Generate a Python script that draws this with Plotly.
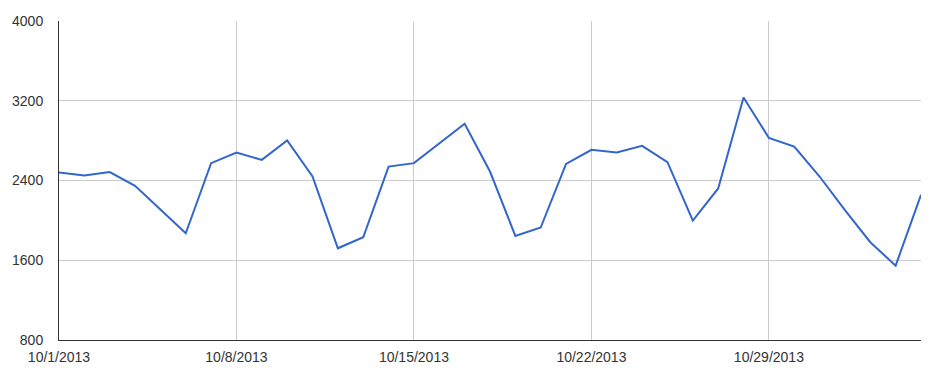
import plotly.graph_objects as go
import pandas as pd

dates = pd.date_range("2013-10-01", "2013-11-04", freq="D").strftime("%Y-%m-%d").tolist()
values = [2480, 2450, 2484, 2346, 2110, 1871, 2574, 2680, 2607, 2801,
          2440, 1720, 1831, 2540, 2574, 2768, 2969, 2490, 1844, 1928,
          2567, 2708, 2680, 2748, 2584, 1998, 2320, 3233, 2828, 2741,
          2440, 2102, 1781, 1546, 2256]

x_tickvals = ["2013-10-01", "2013-10-08", "2013-10-15", "2013-10-22", "2013-10-29"]
x_ticktext = ["10/1/2013", "10/8/2013", "10/15/2013", "10/22/2013", "10/29/2013"]
y_tickvals = [800, 1600, 2400, 3200, 4000]
y_ticktext = ["800", "1600", "2400", "3200", "4000"]

fig = go.Figure()
fig.add_trace(go.Scatter(
    x=dates, y=values, mode="lines",
    line=dict(color="#3366cc", width=2),
    showlegend=False,
))

font = dict(family="Liberation Sans, Arial, sans-serif", size=14, color="#333333")

fig.update_layout(
    width=931, height=374,
    margin=dict(l=59, r=10, t=21, b=34),
    paper_bgcolor="white", plot_bgcolor="white",
    font=font,
    xaxis=dict(
        type="date",
        range=["2013-10-01", "2013-11-04"],
        tickvals=x_tickvals, ticktext=x_ticktext,
        showgrid=True, gridcolor="#cccccc", gridwidth=1,
        showline=True, linecolor="#333333", linewidth=1,
        ticks="", ticklabelstandoff=4,
        zeroline=False, tickfont=font,
    ),
    yaxis=dict(
        range=[800, 4000],
        tickvals=y_tickvals, ticktext=y_ticktext,
        showgrid=True, gridcolor="#cccccc", gridwidth=1,
        showline=True, linecolor="#333333", linewidth=1,
        ticks="", ticklabelstandoff=12,
        zeroline=False, tickfont=font,
    ),
)

fig.write_html("out.html")
